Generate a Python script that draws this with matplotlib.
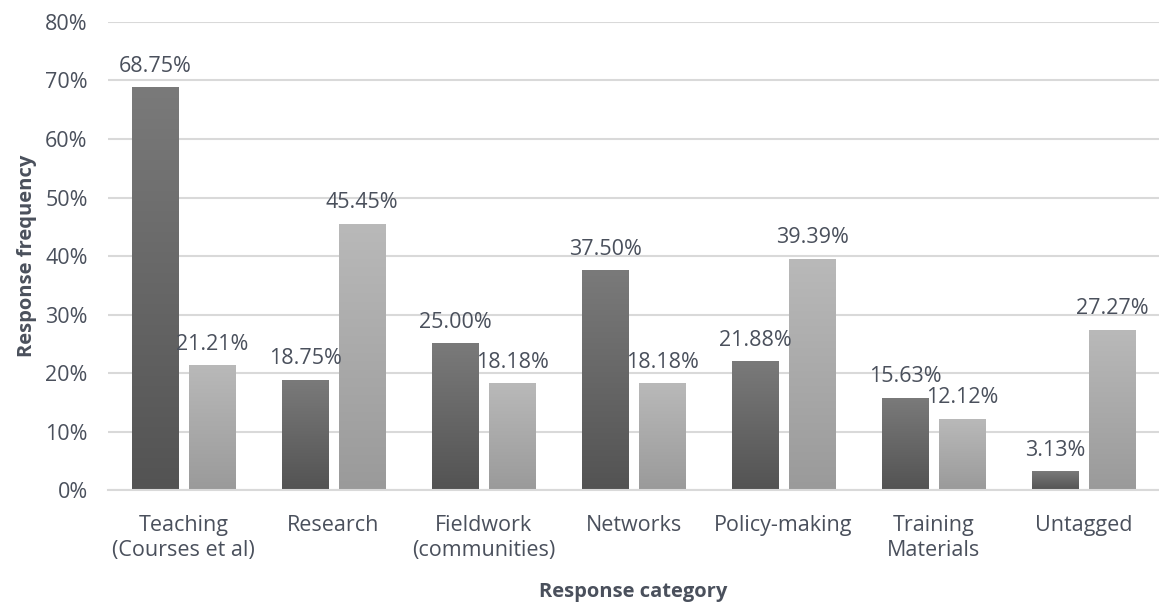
import numpy as np
import matplotlib.pyplot as plt
from matplotlib.colors import LinearSegmentedColormap

# categories and the two series (percent)
categories = ["Teaching\n(Courses et al)", "Research", "Fieldwork\n(communities)",
              "Networks", "Policy-making", "Training\nMaterials", "Untagged"]
series_a = [68.75, 18.75, 25.00, 37.50, 21.88, 15.63, 3.13]
series_b = [21.21, 45.45, 18.18, 18.18, 39.39, 12.12, 27.27]
y_ticks = [0, 10, 20, 30, 40, 50, 60, 70, 80]

text_color = "#4a505c"
plt.rcParams['font.family'] = ['Open Sans', 'DejaVu Sans']

fig = plt.figure(figsize=(11.59, 6.04), dpi=100)
ax = fig.add_axes([0.0936, 0.1887, 0.906, 0.7749])

x = np.arange(len(categories))
width = 0.307
offset = 0.19

# gradient fills: lighter at top, darker at bottom
cmap_a = LinearSegmentedColormap.from_list("dark", ["#535353", "#7a7a7a"])
cmap_b = LinearSegmentedColormap.from_list("light", ["#9a9a9a", "#b9b9b9"])
grad = np.linspace(0, 1, 256).reshape(-1, 1)

bars_a = ax.bar(x - offset, series_a, width, color="none", zorder=2)
bars_b = ax.bar(x + offset, series_b, width, color="none", zorder=2)

for bars, cmap in [(bars_a, cmap_a), (bars_b, cmap_b)]:
    for b in bars:
        x0 = b.get_x()
        h = b.get_height()
        ax.imshow(grad, extent=[x0, x0 + b.get_width(), 0, h], origin="lower",
                  aspect="auto", cmap=cmap, zorder=2)
        ax.annotate(f"{h:.2f}%", (x0 + b.get_width() / 2, h), xytext=(0, 8),
                    textcoords="offset points", ha="center", va="bottom",
                    fontsize=15.5, color=text_color, zorder=3)

ax.set_xlim(-0.5, len(categories) - 0.5)
ax.set_ylim(0, 80)
ax.set_yticks(y_ticks)
ax.set_yticklabels([f"{t}%" for t in y_ticks])
ax.set_xticks(x)
ax.set_xticklabels(categories, linespacing=1.25)

ax.yaxis.grid(True, color="#d9d9d9", linewidth=1.5, zorder=0)
ax.set_axisbelow(True)
for s in ["top", "right", "left"]:
    ax.spines[s].set_visible(False)
ax.spines["bottom"].set_color("#d9d9d9")
ax.spines["bottom"].set_linewidth(1.5)

ax.tick_params(axis="both", length=0, labelsize=15.5, labelcolor=text_color)
ax.tick_params(axis="y", pad=15)
ax.tick_params(axis="x", pad=18)

ax.set_xlabel("Response category", fontsize=14.5, fontweight="bold", color=text_color, labelpad=15)
ax.set_ylabel("Response frequency", fontsize=14.5, fontweight="bold", color=text_color, labelpad=6)

fig.savefig("out.png", dpi=100)
